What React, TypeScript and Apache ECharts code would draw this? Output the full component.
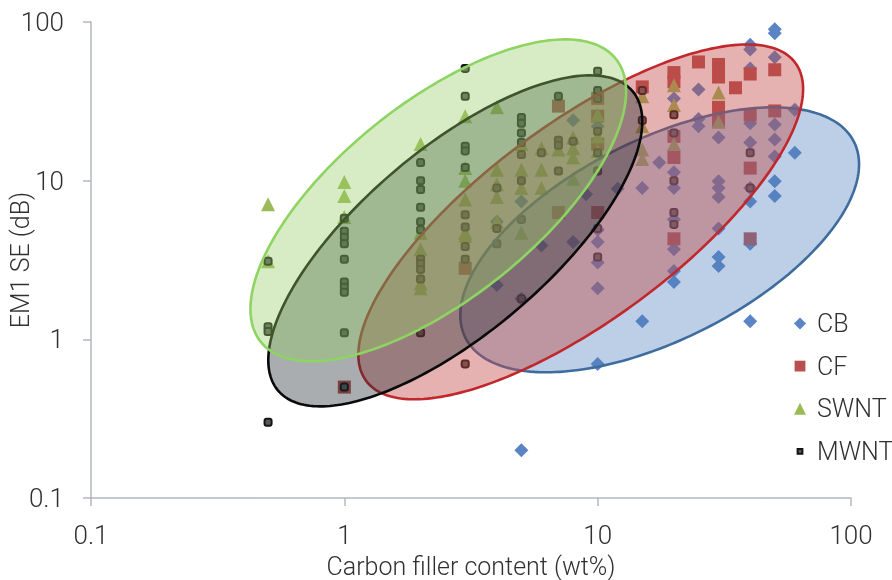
import React, { useEffect, useRef } from "react";
import * as echarts from "echarts";

const cbPoints = [
  [4, 2.2], [4, 5.5], [5, 0.2], [5, 1.8], [5, 7.4], [6, 3.9], [8, 4.1], [8, 24], [9, 8.2],
  [10, 0.7], [10, 2.1], [10, 3.05], [10, 4.1], [10, 4.9], [10, 22], [12, 8.9],
  [15, 1.3], [15, 9], [17.5, 13],
  [20, 2.3], [20, 2.7], [20, 3.7], [20, 5.7], [20, 9], [20, 11.3], [20, 33],
  [25, 22], [25, 24.5], [25, 37.5],
  [30, 2.9], [30, 3.3], [30, 5], [30, 7.9], [30, 9], [30, 9.9], [30, 18.7],
  [40, 1.3], [40, 4], [40, 7.4], [40, 9], [40, 17.4], [40, 23], [40, 51], [40, 67], [40, 72],
  [50, 8], [50, 9.9], [50, 14.2], [50, 18.2], [50, 22.6], [50, 60], [50, 85], [50, 90],
  [60, 15], [60, 28],
];
const cfPoints = [
  [1, 0.5], [3, 2.8], [7, 6.3], [7, 29.5], [10, 6.3], [10, 17], [10, 25.5], [10, 33],
  [15, 39], [20, 4.3], [20, 14], [20, 19], [20, 42], [20, 48], [25, 56],
  [30, 24], [30, 29], [30, 45], [30, 54], [35, 38.5],
  [40, 4.3], [40, 12], [40, 26], [40, 47], [50, 27.5], [50, 50],
];
const swntPoints = [
  [0.5, 7.1], [0.5, 3.1], [1, 9.8], [1, 8], [1, 5.9],
  [2, 17], [2, 4.7], [2, 3.7], [2, 2.25], [2, 2.1],
  [3, 25.5], [3, 12], [3, 10], [3, 7.6], [3, 4.7], [3, 4.5],
  [4, 29], [4, 11.7], [4, 9.5], [4, 7.9], [4, 5.5],
  [5, 17], [5, 11.7], [5, 9], [5, 4.7], [6, 16], [6, 11.7], [6, 9], [7, 15.7],
  [8, 18.7], [8, 16], [8, 14], [8, 10.3], [10, 26], [10, 19], [10, 15.4],
  [15, 34], [15, 22], [15, 15.7], [15, 13.7], [20, 40], [20, 30], [20, 17],
  [30, 36], [30, 23.5],
];
const mwntPoints = [
  [0.5, 3.1], [0.5, 1.2], [0.5, 1.12], [0.5, 0.3],
  [1, 5.8], [1, 4.8], [1, 4.4], [1, 4], [1, 3.2], [1, 2.3], [1, 2.13], [1, 1.98], [1, 1.1], [1, 0.5],
  [2, 13], [2, 10], [2, 8.8], [2, 6.8], [2, 5.5], [2, 4.9], [2, 3.2], [2, 3], [2, 2.76], [2, 2.4], [2, 1.1],
  [3, 51], [3, 34], [3, 16.5], [3, 15.4], [3, 12.1], [3, 6.1], [3, 5.1], [3, 3.85], [3, 3.2], [3, 0.7],
  [4, 9], [4, 5], [4, 4], [5, 25], [5, 23], [5, 20], [5, 17.4], [5, 14.6], [5, 10], [5, 5.7], [5, 1.8],
  [6, 15], [7, 34], [7, 18], [7, 16.7], [7, 11.5], [8, 17.7],
  [10, 49], [10, 37], [10, 33], [10, 20.5], [10, 15], [10, 11.5], [10, 5], [10, 3.3],
  [15, 37], [15, 24], [20, 26], [20, 20], [20, 10], [20, 6.3], [20, 5.3], [40, 15], [40, 9],
];
// left, right, top, bottom, x of the topmost point (data units)
const ellipseNames = ["CB range", "CF range", "MWNT range", "SWNT range"];
const ellipseLeft = [2.87, 1.136, 0.501, 0.426];
const ellipseRight = [107.6, 64.7, 15.0, 12.95];
const ellipseTop = [29.0, 72.2, 46.1, 77.7];
const ellipseBottom = [0.62, 0.419, 0.378, 0.727];
const ellipseTopX = [49.3, 38.9, 9.34, 7.44];
const ellipseFill = [
  "rgba(79,129,189,0.38)",
  "rgba(192,72,70,0.42)",
  "rgba(30,40,46,0.38)",
  "rgba(150,205,100,0.38)",
];
const ellipseStroke = ["#3f6c9f", "#c0282c", "#0a0a0a", "#8ed462"];
const axisTicks = ["0.1", "1", "10", "100"];

const FONT = "Roboto";
const TEXT = "#2f3032";
const AXIS = "#b3b7bc";

function renderEllipse(_params: any, api: any) {
  const pL = api.coord([api.value(0), api.value(2)]);
  const pR = api.coord([api.value(1), api.value(3)]);
  const pT = api.coord([api.value(4), api.value(2)]);
  const cx = (pL[0] + pR[0]) / 2;
  const cy = (pL[1] + pR[1]) / 2;
  const a = (pR[0] - pL[0]) / 2;
  const b = (pR[1] - pL[1]) / 2;
  const phi = Math.asin((pT[0] - cx) / a);
  const points: number[][] = [];
  for (let i = 0; i < 240; i++) {
    const t = (i / 240) * Math.PI * 2;
    points.push([cx + a * Math.cos(t), cy - b * Math.sin(t + phi)]);
  }
  const idx = _params.dataIndex;
  return {
    type: "polygon",
    shape: { points },
    style: { fill: ellipseFill[idx], stroke: ellipseStroke[idx], lineWidth: 2.6 },
  };
}

const smallSquare = "path://M0 0L0 0M20 20L20 20M6 6L14 6L14 14L6 14Z";
const midSquare = "path://M0 0L0 0M20 20L20 20M1 1L19 1L19 19L1 19Z";

function logAxis(name: string, nameGap: number, margin: number) {
  return {
    type: "log" as const,
    logBase: 10,
    min: 0.1,
    max: 100,
    name,
    nameLocation: "middle" as const,
    nameGap,
    nameMoveOverlap: false,
    nameTextStyle: { fontFamily: FONT, fontWeight: 300, fontSize: 25, color: TEXT },
    axisLine: { show: true, onZero: false, lineStyle: { color: AXIS, width: 1.5 } },
    axisTick: { show: true, length: 8, lineStyle: { color: AXIS, width: 1.5 } },
    minorTick: { show: false },
    splitLine: { show: false },
    minorSplitLine: { show: false },
    axisLabel: {
      fontFamily: FONT,
      fontWeight: 300,
      fontSize: 26,
      color: TEXT,
      margin,
      formatter: (v: number) => axisTicks.find((t) => Number(t) === Number(v.toPrecision(3))) ?? "",
    },
  };
}

export default function App() {
  const ref = useRef<HTMLDivElement>(null);
  useEffect(() => {
    document.body.style.margin = "0";
    const chart = echarts.init(ref.current!, undefined, { renderer: "svg" });
    chart.setOption({
      animation: false,
      backgroundColor: "#ffffff",
      grid: { left: 91, right: 41, top: 22, bottom: 82, containLabel: false, outerBoundsMode: "none" },
      xAxis: logAxis("Carbon filler content (wt%)", 56, 24),
      yAxis: logAxis("EM1 SE (dB)", 58, 27),
      legend: {
        orient: "vertical",
        left: 793,
        top: 311,
        padding: 0,
        itemWidth: 12,
        itemHeight: 12,
        itemGap: 17.6,
        textStyle: { fontFamily: FONT, fontWeight: 300, fontSize: 25, color: TEXT, padding: [0, 0, 0, 6], lineHeight: 22 },
        data: [
          { name: "CB", icon: "diamond" },
          { name: "CF", icon: midSquare },
          { name: "SWNT", icon: "triangle" },
          { name: "MWNT", icon: smallSquare },
        ],
      },
      series: [
        {
          name: "CB",
          type: "scatter",
          z: 2,
          data: cbPoints,
          symbol: "diamond",
          symbolSize: 14,
          itemStyle: { color: "#5b84c4", opacity: 1 },
        },
        {
          name: "CF",
          type: "scatter",
          z: 2,
          data: cfPoints,
          symbol: "rect",
          symbolSize: 13,
          itemStyle: { color: "#b8504e", opacity: 1 },
        },
        {
          name: "SWNT",
          type: "scatter",
          z: 2,
          data: swntPoints,
          symbol: "triangle",
          symbolSize: 14,
          itemStyle: { color: "#9bbb59", opacity: 1 },
        },
        {
          name: "MWNT",
          type: "scatter",
          z: 2,
          data: mwntPoints,
          symbol: "roundRect",
          symbolSize: 7,
          itemStyle: { color: "#5a5a5a", borderColor: "#141414", borderWidth: 2, opacity: 1 },
        },
        {
          name: "ranges",
          type: "custom",
          z: 5,
          silent: true,
          renderItem: renderEllipse,
          encode: { x: [0, 1, 4], y: [2, 3] },
          data: ellipseNames.map((n, i) => ({
            name: n,
            value: [ellipseLeft[i], ellipseRight[i], ellipseTop[i], ellipseBottom[i], ellipseTopX[i]],
          })),
        },
      ],
    });
    return () => chart.dispose();
  }, []);
  return <div ref={ref} style={{ width: 892, height: 580, filter: "blur(0.4px)" }} />;
}
